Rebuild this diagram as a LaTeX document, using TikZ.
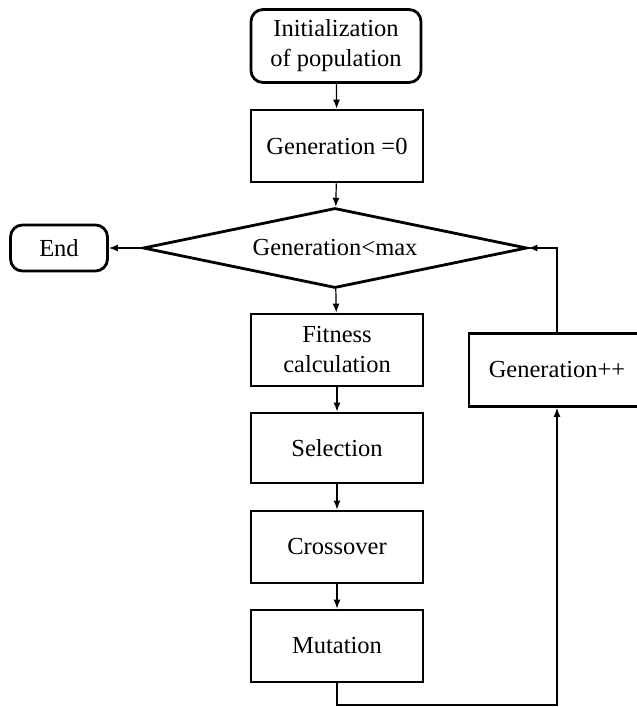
\documentclass[tikz,border=0pt]{standalone}
\usepackage{fontspec}
\setmainfont{Liberation Serif}
\usetikzlibrary{arrows.meta,positioning,shapes.geometric,calc}

\begin{document}
\begin{tikzpicture}[
  x=1pt, y=-1pt,
  every node/.style={font=\fontsize{24.5}{30}\selectfont},
  stepbox/.style={draw,line width=2.8pt,minimum width=172pt,minimum height=72pt,
                  align=center,inner sep=4pt},
  termbox/.style={draw,line width=2.8pt,rounded corners=12pt,align=center,inner sep=4pt},
  testbox/.style={draw,diamond,line width=2.8pt,aspect=4.8,inner sep=0pt,
                  minimum width=384pt,minimum height=80pt},
  link/.style={line width=1.2pt,-{Latex[length=9pt,width=7pt]}},
]
  \clip (0,0) rectangle (637,707);
  \fill[white] (0,0) rectangle (637,707);
  % Start
  \node[termbox,minimum width=170pt,minimum height=73pt] (init) at (336,46) {Initialization\\of population};
  % Counter
  \node[stepbox] (gen0) at (337,146) {Generation =0};
  % Test
  \node[testbox] (test) at (335,248) {Generation<max};
  \node[termbox,minimum width=97pt,minimum height=46pt] (end) at (59,248) {End};
  % GA steps
  \node[stepbox] (fit) at (337,350) {Fitness\\calculation};
  \node[stepbox,minimum height=70pt] (sel) at (337,448) {Selection};
  \node[stepbox] (cross) at (337,547) {Crossover};
  \node[stepbox] (mut) at (337,646) {Mutation};
  % Increment
  \node[stepbox,minimum width=176pt,minimum height=73pt] (inc) at (557,370) {Generation++};
  \coordinate (low) at (337,705);

  \draw[link] (init) -- (gen0);
  \draw[link] (gen0) -- (test);
  \draw[link] (test) -- (end);
  \draw[link] (test) -- (fit);
  \draw[link] (fit) -- (sel);
  \draw[link] (sel) -- (cross);
  \draw[link] (cross) -- (mut);
  \draw[link] (mut.south) -- (low) -| (inc.south);
  \draw[link] (inc.north) |- (test.east);
\end{tikzpicture}
\end{document}
